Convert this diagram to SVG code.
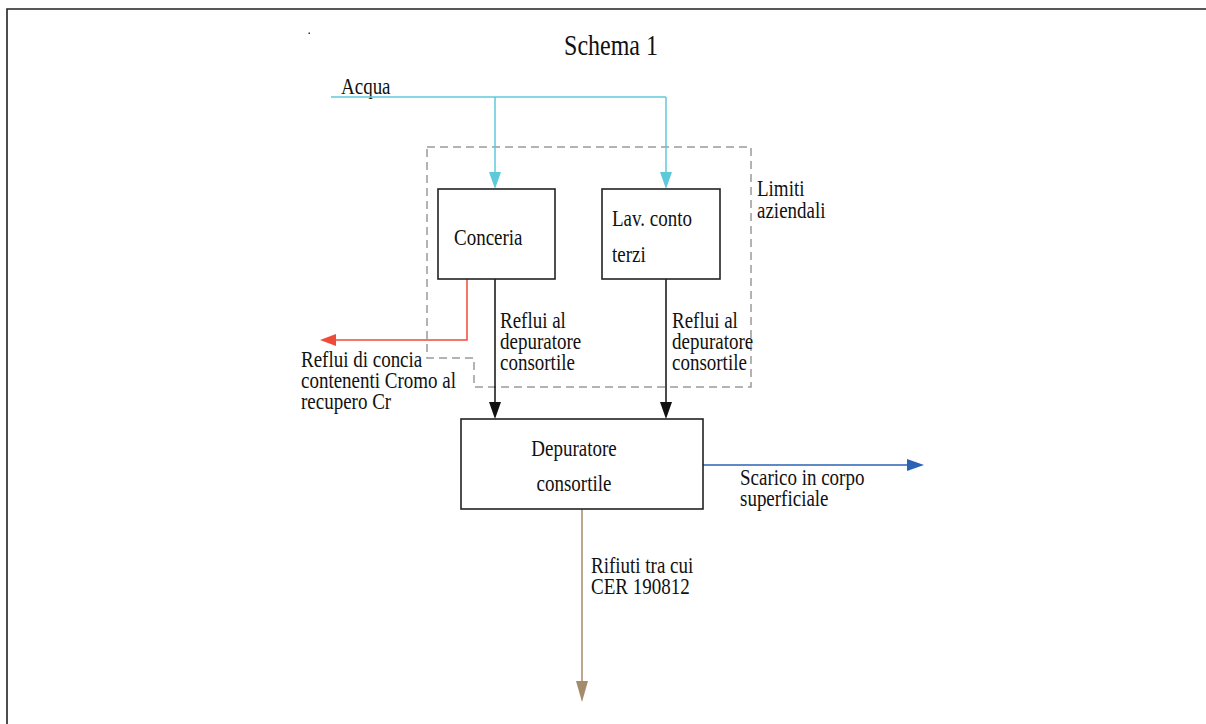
<svg xmlns="http://www.w3.org/2000/svg" width="1206" height="724" viewBox="0 0 1206 724">
<defs>
<style>
text{font-family:"Liberation Serif","Times New Roman",serif;font-size:19px;fill:#111}
.box{fill:#fff;stroke:#222;stroke-width:1.6}
.ln{fill:none;stroke-width:1.5}
</style>
</defs>
<rect width="1206" height="724" fill="#fff"/>
<path d="M7,724 V9 H1206" fill="none" stroke="#222" stroke-width="1.6"/>
<rect x="308.5" y="32.5" width="1.5" height="1.5" fill="#333"/>
<text transform="matrix(1 0 0 1.2 611 55)" text-anchor="middle" style="font-size:24px">Schema 1</text>
<g id="boundary">
<path d="M427,147 H751 V387 H474 V358 H427 Z" fill="none" stroke="#9a9a9a" stroke-width="1.5" stroke-dasharray="8,5"/>
<text transform="matrix(1 0 0 1.2 757 196)">Limiti</text>
<text transform="matrix(1 0 0 1.2 757 218)">aziendali</text>
</g>
<g id="connectors">
<text transform="matrix(1 0 0 1.2 341 94)">Acqua</text>
<path class="ln" stroke="#5fc9dc" d="M331,97 H666 M495,97 V175 M666,97 V175"/>
<path d="M489,172 H501 L495,189 Z M660,172 H672 L666,189 Z" fill="#5fc9dc"/>
<path class="ln" stroke="#f04a38" d="M467,279 V340 H335"/>
<path d="M336,334 V346 L320,340 Z" fill="#f04a38"/>
<path class="ln" stroke="#111" d="M495,279 V404 M666,279 V404"/>
<path d="M489,402 H501 L495,419 Z M660,402 H672 L666,419 Z" fill="#111"/>
<path class="ln" stroke="#2a62b5" d="M703,465 H910"/>
<path d="M907,459 L924,465 L907,471 Z" fill="#2a62b5"/>
<path class="ln" stroke="#a48b6c" d="M582,509 V685"/>
<path d="M576,681 H588 L582,702 Z" fill="#a48b6c"/>
<text transform="matrix(1 0 0 1.2 301 367)">Reflui di concia</text>
<text transform="matrix(1 0 0 1.2 301 388)">contenenti Cromo al</text>
<text transform="matrix(1 0 0 1.2 301 409)">recupero Cr</text>
<text transform="matrix(1 0 0 1.2 500 328)">Reflui al</text>
<text transform="matrix(1 0 0 1.2 500 349)">depuratore</text>
<text transform="matrix(1 0 0 1.2 500 370)">consortile</text>
<text transform="matrix(1 0 0 1.2 672 328)">Reflui al</text>
<text transform="matrix(1 0 0 1.2 672 349)">depuratore</text>
<text transform="matrix(1 0 0 1.2 672 370)">consortile</text>
<text transform="matrix(1 0 0 1.2 740 485)">Scarico in corpo</text>
<text transform="matrix(1 0 0 1.2 740 506)">superficiale</text>
<text transform="matrix(1 0 0 1.2 591 573)">Rifiuti tra cui</text>
<text transform="matrix(1 0 0 1.2 591 594)">CER 190812</text>
</g>
<g id="conceria">
<rect class="box" x="438" y="189" width="117" height="90"/>
<text transform="matrix(1 0 0 1.2 454 245)">Conceria</text>
</g>
<g id="lav">
<rect class="box" x="602" y="189" width="118" height="90"/>
<text transform="matrix(1 0 0 1.2 612 226)">Lav. conto</text>
<text transform="matrix(1 0 0 1.2 612 262)">terzi</text>
</g>
<g id="depuratore">
<rect class="box" x="461" y="419" width="242" height="90"/>
<text transform="matrix(1 0 0 1.2 574 456)" text-anchor="middle">Depuratore</text>
<text transform="matrix(1 0 0 1.2 574 491)" text-anchor="middle">consortile</text>
</g>
</svg>
